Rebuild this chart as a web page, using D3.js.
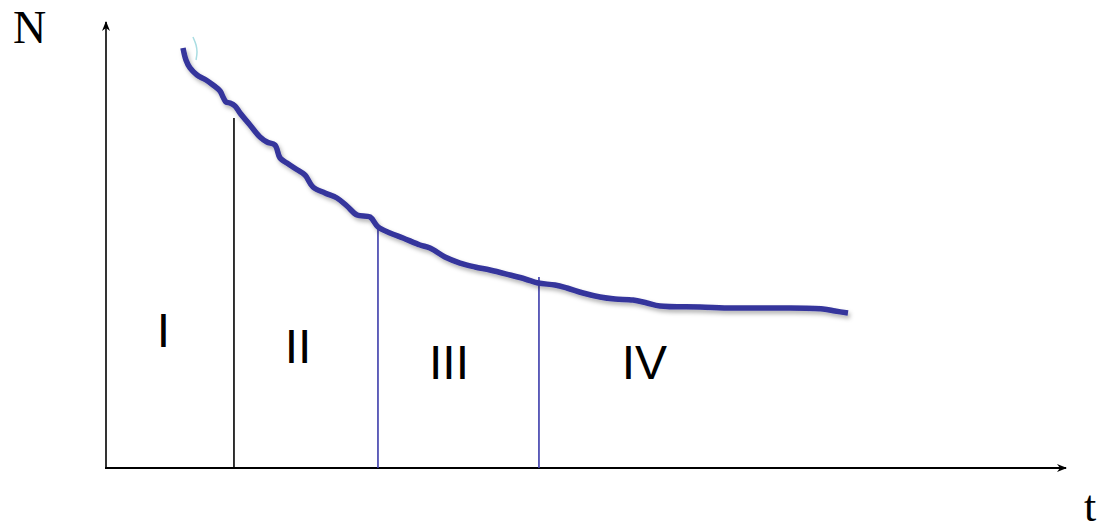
<!DOCTYPE html>
<html>
<head>
<meta charset="utf-8">
<script src="https://cdn.jsdelivr.net/npm/d3@7"></script>
<style>
  html, body { margin: 0; padding: 0; background: #fff; }
  svg { display: block; }
</style>
</head>
<body>
<svg id="chart" width="1099" height="530"></svg>
<script>
// ---- data (t and N in 0..100 units) ----
const curveT = [8.02, 8.33, 8.75, 9.48, 10.42, 11.15, 11.88, 12.19, 12.5, 12.92, 13.44, 13.96, 15.0, 16.04, 16.77, 17.6, 18.13, 18.85, 19.79, 20.73, 21.56, 22.81, 24.06, 25.1, 26.15, 27.5, 28.33, 29.58, 30.94, 32.71, 33.75, 35.31, 36.88, 38.44, 40.0, 42.08, 43.65, 45.0, 46.77, 48.02, 49.69, 51.46, 53.02, 54.9, 56.35, 57.71, 61.88, 65.31, 70.21, 74.69, 75.94, 77.29];
const curveN = [94.17, 91.48, 89.69, 88.12, 87.0, 85.87, 84.53, 83.18, 82.06, 81.84, 81.17, 79.6, 76.91, 74.22, 73.09, 72.42, 69.51, 68.39, 67.04, 65.7, 63.0, 61.66, 60.54, 58.74, 56.73, 56.28, 54.04, 52.69, 51.57, 50.0, 49.33, 47.31, 45.96, 45.07, 44.39, 43.27, 42.38, 41.48, 41.03, 40.36, 39.24, 38.34, 37.89, 37.67, 37.0, 36.32, 36.1, 35.87, 35.87, 35.65, 35.2, 34.75];

const dividerT = [13.33, 28.33, 45.1];
const dividerTop = [78.48, 53.81, 42.83];

const phaseLabels = ["I", "II", "III", "IV"];
const phaseLabelT = [5.99, 20.0, 35.73, 56.09];
const phaseLabelN = [27.13, 23.54, 19.96, 19.96];

const strayT = [9.06, 9.38, 9.48, 9.38];
const strayN = [96.64, 94.84, 93.27, 91.48];

const axisLabelX = "t";
const axisLabelY = "N";

// ---- drawing ----
const svg = d3.select("#chart");
const x = d3.scaleLinear().domain([0, 100]).range([106, 1066]);
const y = d3.scaleLinear().domain([0, 100]).range([468, 22]);

const defs = svg.append("defs");
defs.append("marker")
  .attr("id", "arrow")
  .attr("viewBox", "0 0 10 10")
  .attr("refX", 9).attr("refY", 5)
  .attr("markerWidth", 10).attr("markerHeight", 10)
  .attr("markerUnits", "userSpaceOnUse")
  .attr("orient", "auto")
  .append("path")
  .attr("d", "M0,1 L10,5 L0,9 L3,5 Z")
  .attr("fill", "#000");

const f = defs.append("filter").attr("id", "shadow")
  .attr("x", "-10%").attr("y", "-10%").attr("width", "130%").attr("height", "130%");
f.append("feDropShadow")
  .attr("dx", 2).attr("dy", 3).attr("stdDeviation", 2)
  .attr("flood-color", "#000").attr("flood-opacity", 0.3);

// axes
svg.append("line")
  .attr("x1", x(0)).attr("y1", y(0)).attr("x2", x(0)).attr("y2", y(100))
  .attr("stroke", "#000").attr("stroke-width", 1.6)
  .attr("marker-end", "url(#arrow)");
svg.append("line")
  .attr("x1", x(0) - 1).attr("y1", y(0)).attr("x2", x(100)).attr("y2", y(0))
  .attr("stroke", "#000").attr("stroke-width", 2.2)
  .attr("marker-end", "url(#arrow)");

// dividers
svg.selectAll("line.divider")
  .data(dividerT)
  .enter().append("line")
  .attr("class", "divider")
  .attr("x1", d => x(d)).attr("x2", d => x(d))
  .attr("y1", y(0)).attr("y2", (d, i) => y(dividerTop[i]))
  .attr("stroke", (d, i) => i === 0 ? "#000" : "#3b3baa")
  .attr("stroke-width", 1.6);

// curve
const pts = curveT.map((t, i) => [t, curveN[i]]);
const line = d3.line().x(d => x(d[0])).y(d => y(d[1])).curve(d3.curveCatmullRom.alpha(0.5));
svg.append("path")
  .attr("d", line(pts))
  .attr("fill", "none")
  .attr("stroke", "#34349c")
  .attr("stroke-width", 5.5)
  .attr("stroke-linejoin", "round")
  .attr("filter", "url(#shadow)");

// stray mark
const stray = strayT.map((t, i) => [t, strayN[i]]);
svg.append("path")
  .attr("d", line(stray))
  .attr("fill", "none")
  .attr("stroke", "#a9dde2")
  .attr("stroke-width", 1.5);

// phase labels
svg.selectAll("text.phase")
  .data(phaseLabels)
  .enter().append("text")
  .attr("class", "phase")
  .attr("x", (d, i) => x(phaseLabelT[i]))
  .attr("y", (d, i) => y(phaseLabelN[i]))
  .attr("text-anchor", "middle")
  .attr("font-family", "'Liberation Sans', Arial, sans-serif")
  .attr("font-size", 48)
  .attr("fill", "#000")
  .text(d => d);

// axis labels
svg.append("text")
  .attr("x", 13).attr("y", 43)
  .attr("font-family", "'Liberation Serif', 'Times New Roman', serif")
  .attr("font-size", 46)
  .attr("fill", "#000")
  .text(axisLabelY);
svg.append("text")
  .attr("x", 1084).attr("y", 521)
  .attr("font-family", "'Liberation Serif', 'Times New Roman', serif")
  .attr("font-size", 44)
  .attr("fill", "#000")
  .text(axisLabelX);
</script>
</body>
</html>
